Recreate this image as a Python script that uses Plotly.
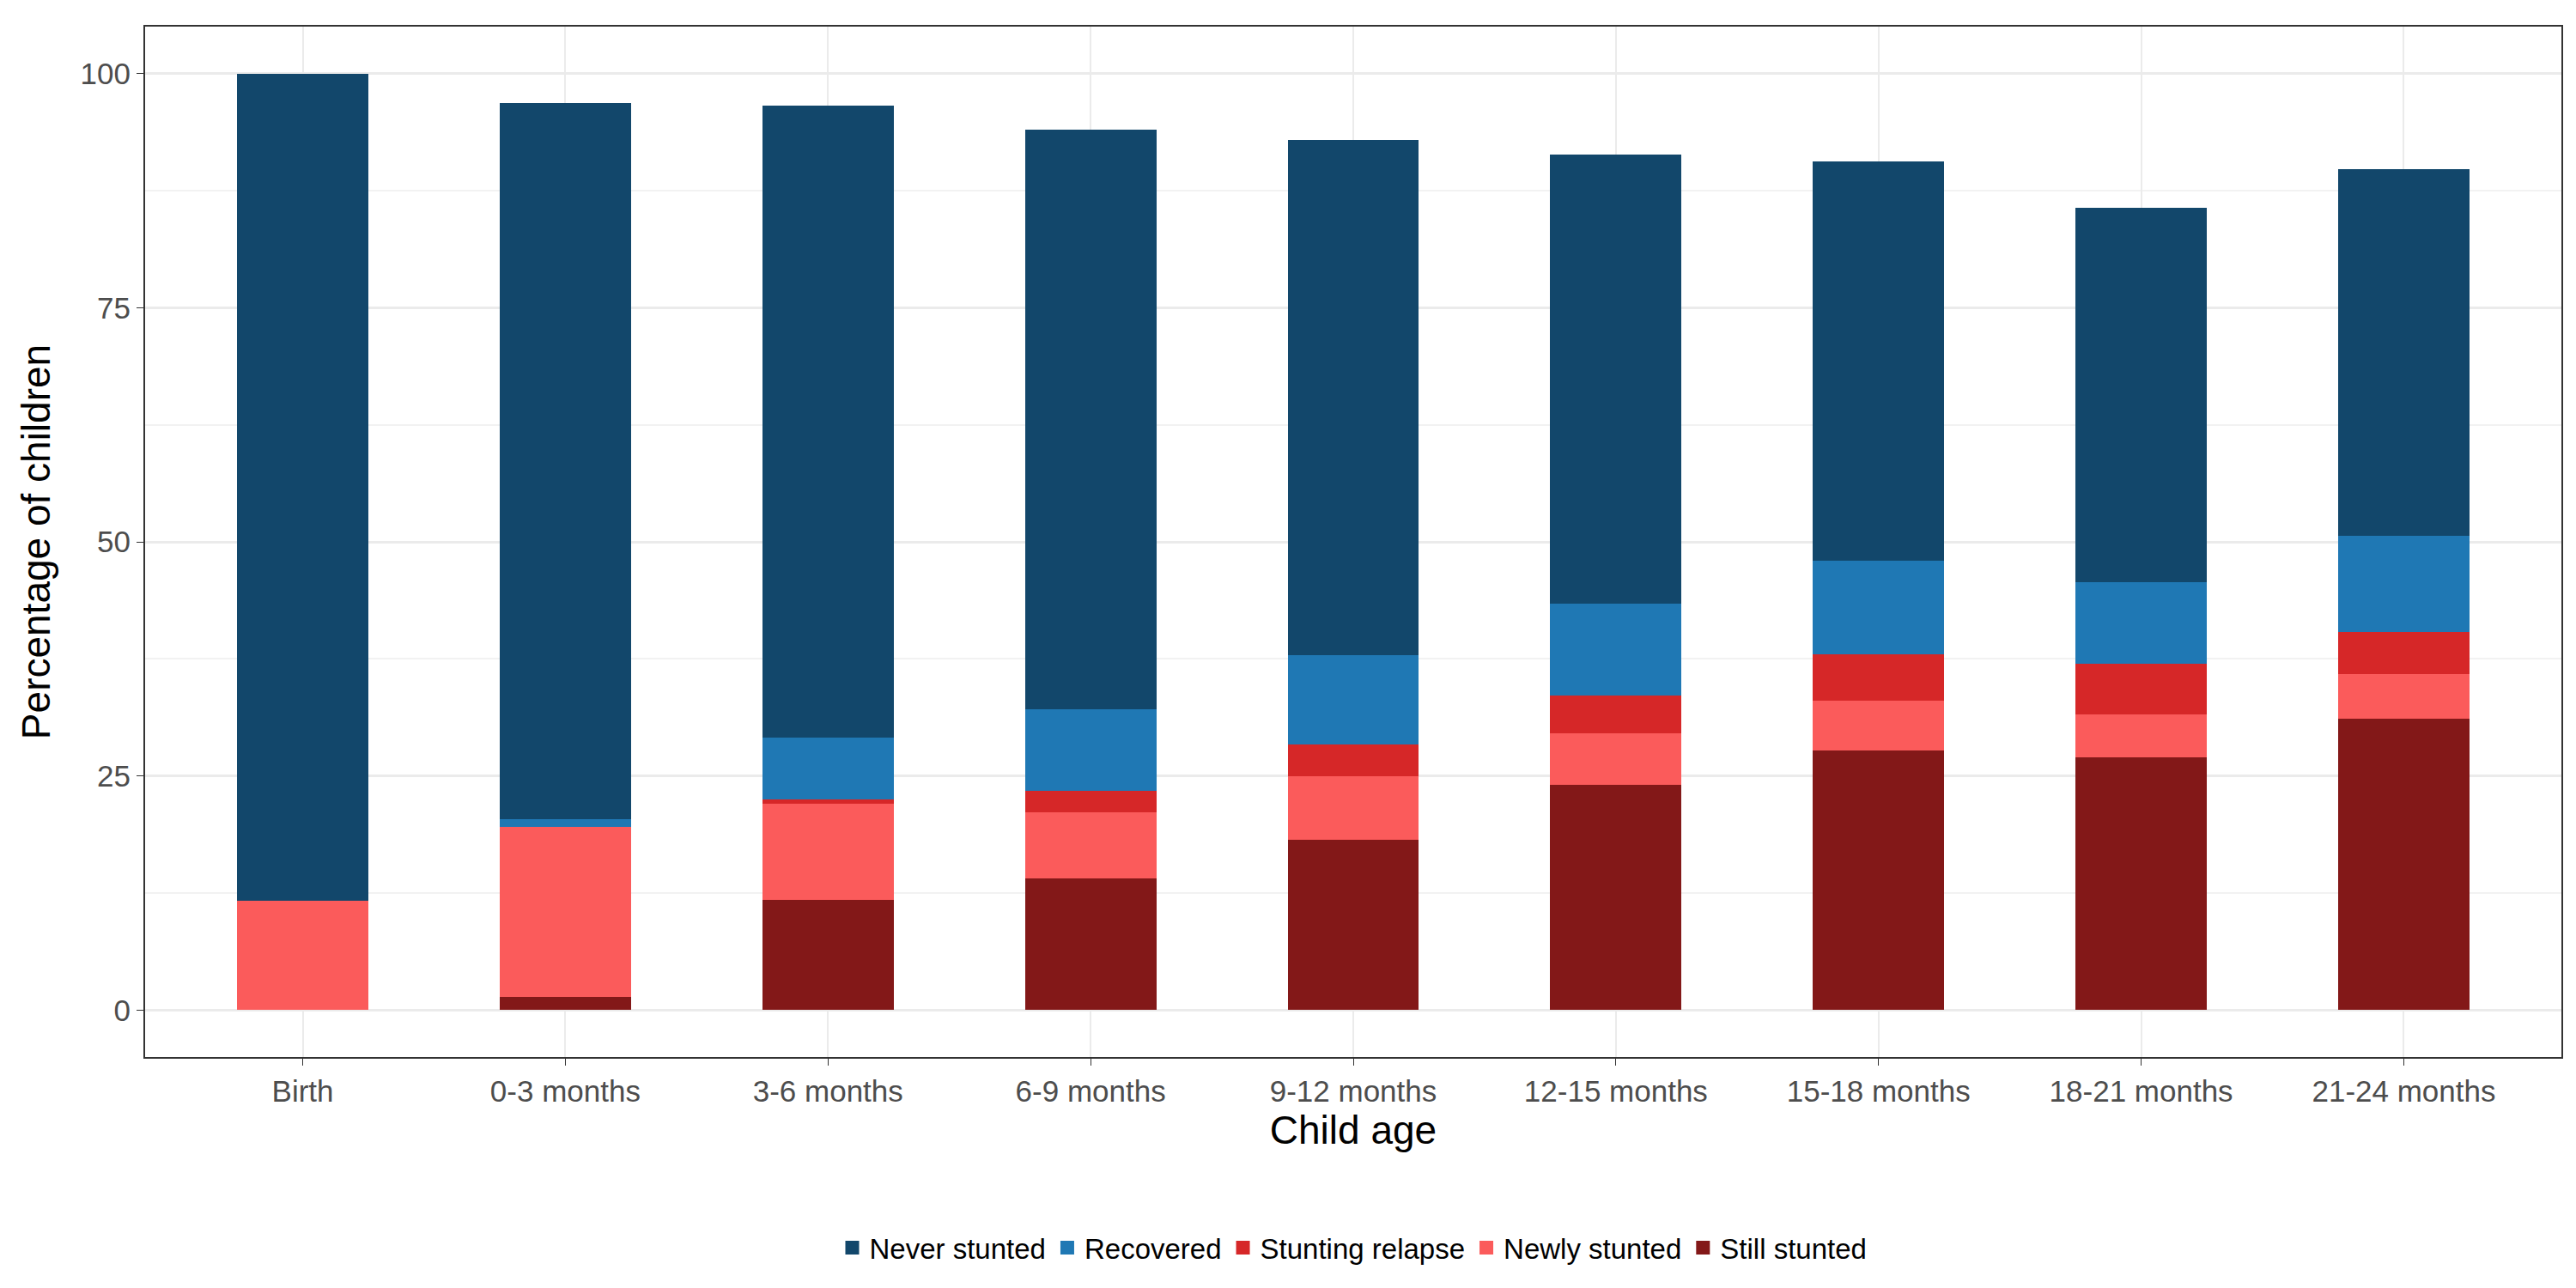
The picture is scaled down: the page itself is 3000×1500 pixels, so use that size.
import plotly.graph_objects as go

ages = ["Birth", "0-3 months", "3-6 months", "6-9 months", "9-12 months",
        "12-15 months", "15-18 months", "18-21 months", "21-24 months"]

# segment heights (percentage points), bottom to top of each stack
still_stunted = [0.0, 1.4, 11.8, 14.1, 18.2, 24.1, 27.7, 27.0, 31.1]
newly_stunted = [11.7, 18.2, 10.2, 7.0, 6.8, 5.5, 5.3, 4.6, 4.8]
stunting_relapse = [0.0, 0.0, 0.5, 2.3, 3.4, 4.0, 5.0, 5.4, 4.5]
recovered = [0.0, 0.8, 6.6, 8.7, 9.5, 9.8, 10.0, 8.7, 10.2]
never_stunted = [88.3, 76.4, 67.5, 61.9, 55.0, 47.9, 42.6, 40.0, 39.2]

series = [
    ("Still stunted", still_stunted, "#831818"),
    ("Newly stunted", newly_stunted, "#fb5b5b"),
    ("Stunting relapse", stunting_relapse, "#d62728"),
    ("Recovered", recovered, "#1f78b4"),
    ("Never stunted", never_stunted, "#12476b"),
]

fig = go.Figure()
for name, vals, col in series:
    fig.add_trace(go.Bar(x=ages, y=vals, name=name, marker_color=col,
                         marker_line_width=0, width=0.5, showlegend=False,
                         legendgroup=name))
# legend keys as big squares
for name, vals, col in series:
    fig.add_trace(go.Scatter(x=[None], y=[None], mode="markers", name=name,
                             legendgroup=name,
                             marker=dict(symbol="square", size=62, color=col)))

fig.update_layout(
    barmode="stack",
    width=3000, height=1500,
    paper_bgcolor="white", plot_bgcolor="white",
    margin=dict(l=161, r=25, t=23, b=277),
    font=dict(family="Arial, Liberation Sans", color="#222"),
    legend=dict(orientation="h", traceorder="reversed", x=0.5, xanchor="center",
                y=-0.185, yanchor="middle", font=dict(size=33, color="black"),
                itemsizing="trace"),
)
fig.update_xaxes(
    title=dict(text="Child age", font=dict(size=46, color="black"), standoff=10),
    tickfont=dict(size=35, color="#4d4d4d"), range=[-0.6, 8.6], automargin=False,
    showgrid=True, gridcolor="#ebebeb", gridwidth=2,
    showline=True, linecolor="#333", linewidth=2, mirror=True,
    ticks="outside", ticklen=8, tickcolor="#333",
)
fig.update_yaxes(
    title=dict(text="Percentage of children", font=dict(size=46, color="black"), standoff=20),
    tickfont=dict(size=35, color="#4d4d4d"), range=[-5, 105], automargin=False,
    tickvals=[0, 25, 50, 75, 100],
    showgrid=True, gridcolor="#ebebeb", gridwidth=2.5, zeroline=False,
    minor=dict(tickvals=[12.5, 37.5, 62.5, 87.5], showgrid=True, gridcolor="#f2f2f2", gridwidth=1.5),
    showline=True, linecolor="#333", linewidth=2, mirror=True,
    ticks="outside", ticklen=8, tickcolor="#333",
)

fig.write_html("out.html")
